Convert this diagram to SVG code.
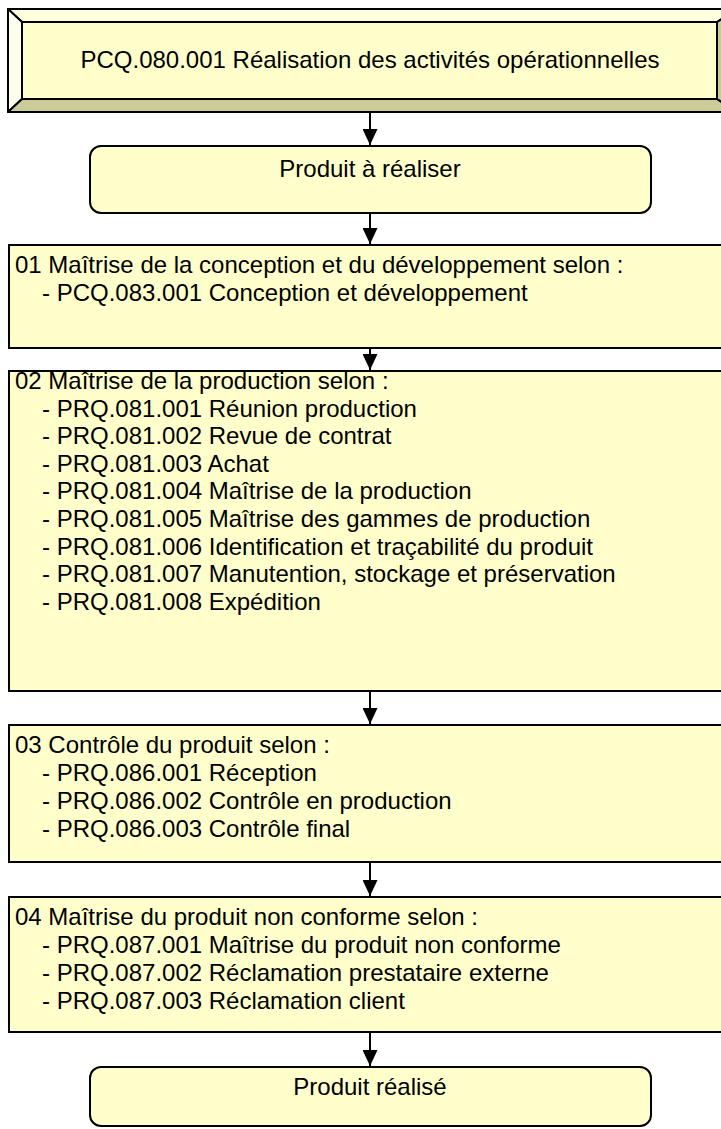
<svg xmlns="http://www.w3.org/2000/svg" width="721" height="1129" viewBox="0 0 721 1129">
<defs>
<style>
text{font-family:"Liberation Sans",Arial,sans-serif;font-size:24px;fill:#000}
.box{fill:#FFFFCC;stroke:#000;stroke-width:2}
.bev{stroke:#000;stroke-width:2;stroke-linejoin:round}
.conn line{stroke:#000;stroke-width:2}
</style>
<marker id="ah" markerWidth="16" markerHeight="15" refX="16" refY="7.5" orient="auto" markerUnits="userSpaceOnUse">
<path d="M0,0 L16,7.5 L0,15 Z" fill="#000"/>
</marker>
</defs>
<rect width="721" height="1129" fill="#fff"/>
<g id="title">
<rect x="8" y="9" width="730" height="103" fill="#FFFFCC" stroke="#000" stroke-width="2"/>
<polygon class="bev" points="8,9 738,9 717,22 22,22" fill="#FFFFDD"/>
<polygon class="bev" points="8,9 22,22 22,99 8,112" fill="#FFFFEE"/>
<polygon class="bev" points="8,112 22,99 717,99 738,112" fill="#CCCC99"/>
<polygon class="bev" points="717,22 738,9 738,112 717,99" fill="#CCCC99"/>
<rect x="22" y="22" width="695" height="77" class="box"/>
<text x="370" y="68" text-anchor="middle">PCQ.080.001 Réalisation des activités opérationnelles</text>
</g>
<g id="start">
<rect x="90" y="146" width="561" height="67" rx="11" class="box"/>
<text x="370" y="177" text-anchor="middle">Produit à réaliser</text>
</g>
<g id="s01">
<rect x="9" y="245" width="740" height="103" class="box"/>
<text x="15" y="273">01 Maîtrise de la conception et du développement selon :</text>
<text x="42" y="301">- PCQ.083.001 Conception et développement</text>
</g>
<g id="s02">
<rect x="9" y="371" width="740" height="320" class="box"/>
<text x="15" y="389">02 Maîtrise de la production selon :</text>
<text x="42" y="416.6">- PRQ.081.001 Réunion production</text>
<text x="42" y="444.2">- PRQ.081.002 Revue de contrat</text>
<text x="42" y="471.8">- PRQ.081.003 Achat</text>
<text x="42" y="499.4">- PRQ.081.004 Maîtrise de la production</text>
<text x="42" y="527">- PRQ.081.005 Maîtrise des gammes de production</text>
<text x="42" y="554.6">- PRQ.081.006 Identification et traçabilité du produit</text>
<text x="42" y="582.2">- PRQ.081.007 Manutention, stockage et préservation</text>
<text x="42" y="609.8">- PRQ.081.008 Expédition</text>
</g>
<g id="s03">
<rect x="9" y="725" width="740" height="137" class="box"/>
<text x="15" y="753">03 Contrôle du produit selon :</text>
<text x="42" y="781">- PRQ.086.001 Réception</text>
<text x="42" y="809">- PRQ.086.002 Contrôle en production</text>
<text x="42" y="837">- PRQ.086.003 Contrôle final</text>
</g>
<g id="s04">
<rect x="9" y="897" width="740" height="135" class="box"/>
<text x="15" y="925">04 Maîtrise du produit non conforme selon :</text>
<text x="42" y="953">- PRQ.087.001 Maîtrise du produit non conforme</text>
<text x="42" y="981">- PRQ.087.002 Réclamation prestataire externe</text>
<text x="42" y="1009">- PRQ.087.003 Réclamation client</text>
</g>
<g id="end">
<rect x="90" y="1067" width="561" height="59" rx="11" class="box"/>
<text x="370" y="1095" text-anchor="middle">Produit réalisé</text>
</g>
<g id="connectors" class="conn">
<line x1="370" y1="112" x2="370" y2="145" marker-end="url(#ah)"/>
<line x1="370" y1="213" x2="370" y2="244" marker-end="url(#ah)"/>
<line x1="370" y1="348" x2="370" y2="370" marker-end="url(#ah)"/>
<line x1="370" y1="691" x2="370" y2="724" marker-end="url(#ah)"/>
<line x1="370" y1="862" x2="370" y2="896" marker-end="url(#ah)"/>
<line x1="370" y1="1032" x2="370" y2="1066" marker-end="url(#ah)"/>
</g>
</svg>
